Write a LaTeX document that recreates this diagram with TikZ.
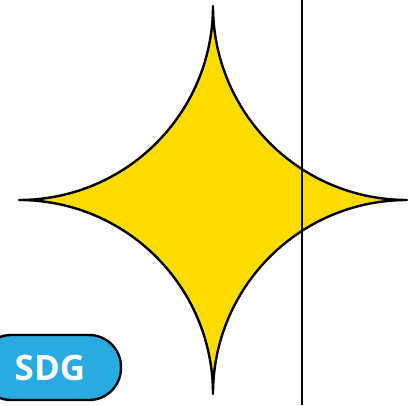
\documentclass[tikz,border=0pt]{standalone}
\usepackage{fontspec}
\setsansfont{Open Sans}
\usepackage{tikz}
\usetikzlibrary{positioning}
\definecolor{starfill}{RGB}{255,220,0}
\definecolor{badgeblue}{RGB}{41,170,225}
\tikzset{
  starshape/.style = {draw=black, line width=2.4pt, fill=starfill, line join=round},
  markline/.style = {draw=black, line width=2.4pt},
  sdgbadge/.style = {rectangle, draw=black, fill=badgeblue, rounded corners=32pt,
                     line width=2.4pt, minimum width=142pt, minimum height=65pt,
                     text=white, font=\sffamily\bfseries\fontsize{35}{35}\selectfont}
}

\begin{document}
\begin{tikzpicture}[x=1pt, y=1pt]
\useasboundingbox (0,0) rectangle (413,405);

% four-pointed star from quarter circles
\coordinate (top) at (213,399);
\coordinate (left) at (19,205);
\coordinate (bottom) at (213,11);
\coordinate (right) at (407,205);
\draw[starshape] (top)
  arc[start angle=0, end angle=-90, radius=194]
  arc[start angle=90, end angle=0, radius=194]
  arc[start angle=180, end angle=90, radius=194]
  arc[start angle=270, end angle=180, radius=194] -- cycle;

% vertical line
\coordinate (lineTop) at (302,405);
\coordinate (lineBot) at (302,0);
\draw[markline] (lineTop) -- (lineBot);

% badge
\node[sdgbadge] (badge) at (50,37.5) {SDG};
\end{tikzpicture}
\end{document}
